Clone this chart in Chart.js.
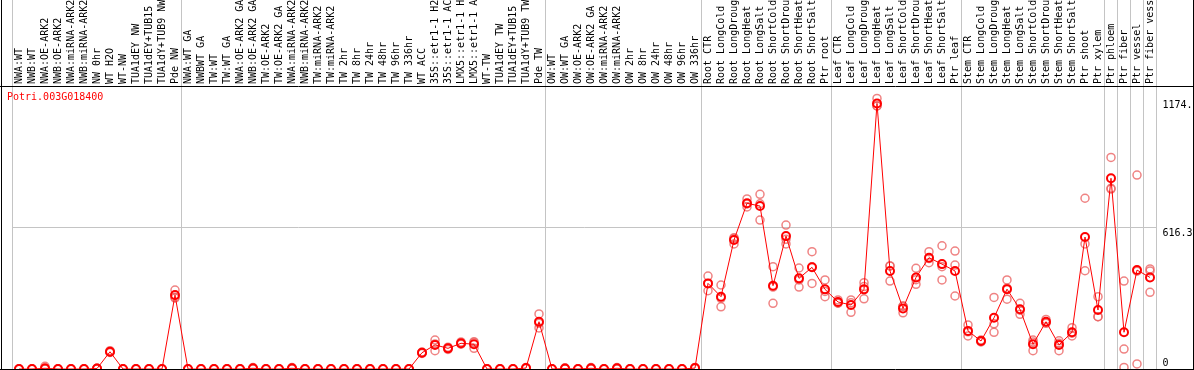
<!DOCTYPE html>
<html>
<head>
<meta charset="utf-8">
<script src="https://cdn.jsdelivr.net/npm/chart.js@4"></script>
<style>
  html, body { margin: 0; padding: 0; background: #fff; }
  canvas { display: block; }
</style>
</head>
<body>
<canvas id="myChart" width="1194" height="370"></canvas>
<script>
// sample names (x axis, top)
const labels = [
  'NWA:WT', 'NWB:WT', 'NWA:OE-ARK2', 'NWB:OE-ARK2', 'NWA:miRNA-ARK2', 'NWB:miRNA-ARK2',
  'NW 0hr', 'WT H2O', 'WT-NW', 'TUA1dEY NW', 'TUA1dEY+TUB15', 'TUA1dY+TUB9 NW', 'Pde NW',
  'NWA:WT GA', 'NWBWT GA', 'TW:WT', 'TW:WT GA', 'NWA:OE-ARK2 GA', 'NWB:OE-ARK2 GA',
  'TW:OE-ARK2', 'TW:OE-ARK2 GA', 'NWA:miRNA-ARK2', 'NWB:miRNA-ARK2', 'TW:miRNA-ARK2',
  'TW:miRNA-ARK2', 'TW 2hr', 'TW 8hr', 'TW 24hr', 'TW 48hr', 'TW 96hr', 'TW 336hr',
  'WT ACC', '35S::etr1-1 H2O', '35S::etr1-1 ACC', 'LMX5::etr1-1 H2O', 'LMX5::etr1-1 ACC',
  'WT-TW', 'TUA1dEY TW', 'TUA1dEY+TUB15', 'TUA1dY+TUB9 TW', 'Pde TW',
  'OW:WT', 'OW:WT GA', 'OW:OE-ARK2', 'OW:OE-ARK2 GA', 'OW:miRNA-ARK2', 'OW:miRNA-ARK2',
  'OW 2hr', 'OW 8hr', 'OW 24hr', 'OW 48hr', 'OW 96hr', 'OW 336hr',
  'Root CTR', 'Root LongCold', 'Root LongDrought', 'Root LongHeat', 'Root LongSalt',
  'Root ShortCold', 'Root ShortDrought', 'Root ShortHeat', 'Root ShortSalt', 'Ptr root',
  'Leaf CTR', 'Leaf LongCold', 'Leaf LongDrought', 'Leaf LongHeat', 'Leaf LongSalt',
  'Leaf ShortCold', 'Leaf ShortDrought', 'Leaf ShortHeat', 'Leaf ShortSalt', 'Ptr leaf',
  'Stem CTR', 'Stem LongCold', 'Stem LongDrought', 'Stem LongHeat', 'Stem LongSalt',
  'Stem ShortCold', 'Stem ShortDrought', 'Stem ShortHeat', 'Stem ShortSalt',
  'Ptr shoot', 'Ptr xylem', 'Ptr phloem', 'Ptr fiber', 'Ptr vessel', 'Ptr fiber vessel'
];

// mean expression
const meanValues = [
  0, 0, 3, 0, 0, 0, 2, 75, 0, 0, 0, 0, 322,
  0, 0, 0, 0, 0, 3, 0, 0, 3, 0, 0, 0, 0, 0, 0, 0, 0, 0,
  71, 105, 90, 112, 108, 0, 0, 0, 4, 206,
  0, 2, 0, 3, 0, 3, 0, 0, 0, 0, 0, 4,
  373, 315, 562, 722, 710, 363, 579, 395, 443, 347,
  292, 279, 347, 1157, 427, 264, 399, 485, 457, 427,
  166, 122, 223, 348, 260, 108, 206, 105, 160, 575, 257, 831, 160, 431, 399
];

// replicates
const repHigh = [
  0, 0, 12, 0, 0, 0, 3, 80, 0, 0, 0, 0, 344,
  0, 0, 0, 0, 0, 6, 0, 0, 6, 0, 0, 0, 0, 0, 0, 0, 0, 0,
  74, 126, 95, 118, 119, 0, 0, 0, 6, 240,
  0, 5, 0, 6, 0, 6, 0, 0, 0, 0, 0, 7,
  405, 366, 569, 741, 761, 446, 627, 440, 511, 388,
  301, 301, 376, 1179, 449, 274, 439, 511, 537, 514,
  192, 126, 312, 388, 286, 126, 216, 123, 180, 744, 315, 922, 383, 845, 436
];
const repMid = [
  0, 0, 0, 0, 0, 0, 3, 73, 0, 0, 0, 0, 313,
  0, 0, 0, 0, 0, 3, 0, 0, 3, 0, 0, 0, 0, 0, 0, 0, 0, 0,
  71, 109, 90, 110, 115, 0, 0, 0, 4, 199,
  0, 2, 0, 3, 0, 3, 0, 0, 0, 0, 0, 5,
  373, 308, 572, 719, 720, 357, 565, 388, 445, 338,
  287, 289, 359, 1146, 449, 273, 389, 481, 446, 453,
  162, 122, 197, 352, 256, 118, 203, 112, 156, 545, 228, 787, 87, 426, 427
];
const repLow = [
  0, 0, 0, 0, 0, 0, 0, 72, 0, 0, 0, 0, 309,
  0, 0, 0, 0, 0, 0, 0, 0, 0, 0, 0, 0, 0, 0, 0, 0, 0, 0,
  68, 80, 85, 108, 90, 0, 0, 0, 2, 179,
  0, 0, 0, 0, 0, 0, 0, 0, 0, 0, 0, 2,
  341, 271, 545, 706, 649, 286, 545, 357, 373, 315,
  288, 247, 306, 1146, 383, 245, 369, 463, 388, 318,
  144, 118, 160, 304, 238, 80, 199, 80, 144, 428, 228, 784, 7, 22, 334
];

// gray separators (before these sample indices)
const groupStarts = [0, 13, 41, 53, 63, 73, 84, 85, 86, 87, 88];

const yTickValues = [0, 616.3, 1174.3];
const yTickLabels = ['0', '616.3', '1174.'];
const yMax = 1174.3 * 1.05;

const geneName = 'Potri.003G018400';
const monoFont = { family: 'DejaVu Sans Mono', size: 10 };

const repStyle = {
  showLine: false,
  pointRadius: 4,
  pointBorderWidth: 1.5,
  pointBorderColor: 'rgba(235, 100, 100, 0.8)',
  pointBackgroundColor: 'rgba(0,0,0,0)',
  clip: false
};

const frame = {
  id: 'frame',
  afterDraw(chart) {
    const ctx = chart.ctx;
    const a = chart.chartArea;
    const w = chart.width, h = chart.height;
    ctx.save();
    ctx.strokeStyle = '#000';
    ctx.lineWidth = 1;
    ctx.beginPath();
    ctx.moveTo(0, a.top + 0.5); ctx.lineTo(w, a.top + 0.5);
    ctx.moveTo(0, a.bottom + 0.5); ctx.lineTo(w, a.bottom + 0.5);
    ctx.moveTo(1.5, 0); ctx.lineTo(1.5, h);
    ctx.moveTo(w - 0.5, 0); ctx.lineTo(w - 0.5, h);
    ctx.stroke();
    ctx.fillStyle = '#ff0000';
    ctx.font = '10px "DejaVu Sans Mono"';
    ctx.textBaseline = 'middle';
    ctx.fillText(geneName, 7, a.top + 11);
    ctx.restore();
  }
};

const data = {
  labels,
  datasets: [
    {
      data: meanValues,
      borderColor: '#ff0000',
      borderWidth: 1,
      pointRadius: 4,
      pointBorderWidth: 2,
      pointBorderColor: '#ff0000',
      pointBackgroundColor: 'rgba(0,0,0,0)',
      tension: 0,
      clip: false
    },
    { data: repHigh, ...repStyle },
    { data: repMid, ...repStyle },
    { data: repLow, ...repStyle }
  ]
};

const config = {
  type: 'line',
  data,
  options: {
    responsive: false,
    animation: false,
    events: [],
    layout: { autoPadding: false, padding: { left: 12.5, right: 0, top: 0, bottom: 1 } },
    plugins: {
      legend: { display: false },
      tooltip: { enabled: false },
      title: { display: false }
    },
    scales: {
      x: {
        type: 'category',
        position: 'top',
        offset: true,
        afterFit: (scale) => {
          scale.height = 86;
          scale.paddingLeft = 0;
          scale.paddingRight = 0;
        },
        border: { display: false },
        grid: {
          offset: true,
          drawTicks: true,
          tickLength: 86,
          lineWidth: 1,
          color: (ctx) => (ctx.index === undefined || groupStarts.includes(ctx.index)) ? '#c4c4c4' : 'rgba(0,0,0,0)'
        },
        ticks: {
          autoSkip: false,
          minRotation: 90,
          maxRotation: 90,
          padding: -84,
          labelOffset: 12.5,
          color: '#000',
          font: monoFont
        }
      },
      y: {
        position: 'right',
        min: 0,
        max: yMax,
        afterFit: (scale) => {
          scale.width = 37.5;
          scale.paddingTop = 0;
          scale.paddingBottom = 0;
        },
        afterBuildTicks: (scale) => { scale.ticks = yTickValues.map(v => ({ value: v })); },
        border: { display: false },
        grid: {
          drawTicks: false,
          color: (ctx) => (ctx.tick && ctx.tick.value === 616.3) ? '#c4c4c4' : 'rgba(0,0,0,0)'
        },
        ticks: {
          padding: 6,
          color: '#000',
          font: monoFont,
          callback: (value, index) => index === 0 ? [yTickLabels[index], ''] : ['', yTickLabels[index]]
        }
      }
    }
  },
  plugins: [frame]
};

var myChart = new Chart(document.getElementById('myChart'), config);
</script>
</body>
</html>
